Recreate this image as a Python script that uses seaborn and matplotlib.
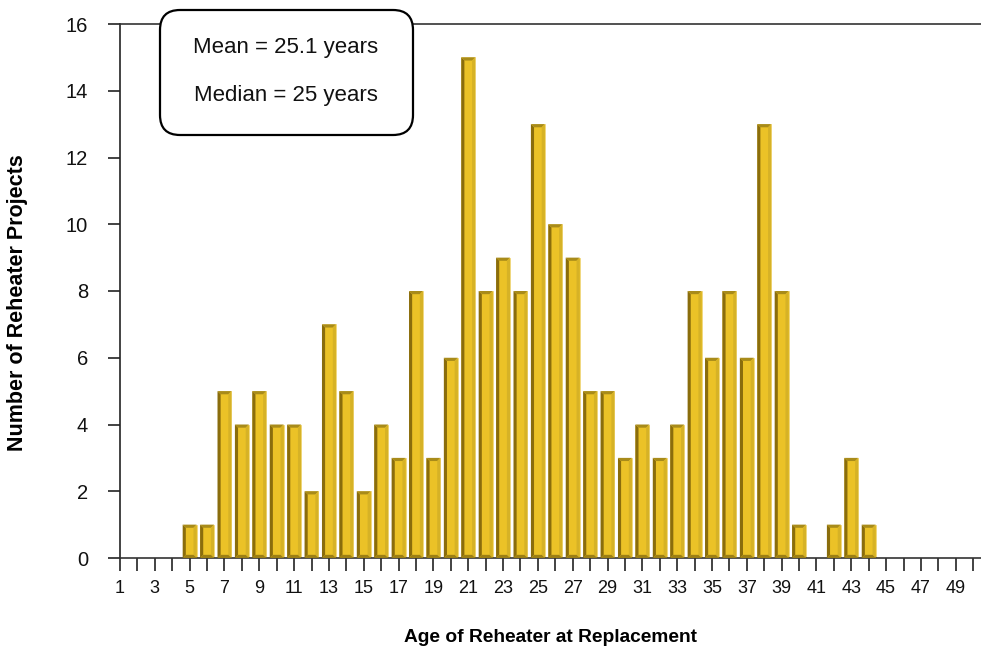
import matplotlib
matplotlib.use("Agg")
import matplotlib.pyplot as plt
import seaborn as sns
import pandas as pd
from matplotlib.patches import Polygon, FancyBboxPatch
from matplotlib.transforms import IdentityTransform

ages = list(range(1, 51))
counts = [0, 0, 0, 0, 1, 1, 5, 4, 5, 4,
          4, 2, 7, 5, 2, 4, 3, 8, 3, 6,
          15, 8, 9, 8, 13, 10, 9, 5, 5, 3,
          4, 3, 4, 8, 6, 8, 6, 13, 8, 1,
          0, 1, 3, 1, 0, 0, 0, 0, 0, 0]
y_ticks = [0, 2, 4, 6, 8, 10, 12, 14, 16]
x_label_ticks = list(range(1, 51, 2))
stats_lines = ["Mean = 25.1 years", "Median = 25 years"]

sns.set_theme(style="white")
plt.rcParams['font.family'] = ['Liberation Sans', 'DejaVu Sans']

df = pd.DataFrame({"age": ages, "count": counts})

W, H = 981, 650
fig = plt.figure(figsize=(W / 100, H / 100), dpi=100)
ax = fig.add_axes([120 / W, (H - 558) / H, (W - 120) / W, (558 - 24) / H])

face = "#EBC227"
sns.barplot(data=df, x="age", y="count", native_scale=True, width=0.8,
            color=face, saturation=1, edgecolor="#F0D77E", linewidth=0.6, ax=ax)

dx, dy = 0.18, 0.095
for p in list(ax.patches):
    h = p.get_height()
    if h <= 0:
        continue
    x0 = p.get_x()
    x1 = x0 + p.get_width()
    polys = [
        ([(x0, 0), (x0 + dx, dy), (x0 + dx, h - dy), (x0, h)], "#8A6D0C"),
        ([(x0, h), (x0 + dx, h - dy), (x1 - dx, h - dy), (x1, h)], "#A88B1A"),
        ([(x1, h), (x1 - dx, h - dy), (x1 - dx, dy), (x1, 0)], "#D6B226"),
        ([(x0, 0), (x0 + dx, dy), (x1 - dx, dy), (x1, 0)], "#9C7F14"),
    ]
    for pts, c in polys:
        ax.add_patch(Polygon(pts, closed=True, facecolor=c, edgecolor="none", zorder=3))

ax.set_xlim(1, 50.45)
ax.set_ylim(0, 16)
ax.set_xticks(ages)
ax.set_xticklabels([str(a) if a in x_label_ticks else "" for a in ages])
ax.set_yticks(y_ticks)
ax.set_yticklabels([str(v) for v in y_ticks])

for s in ["left", "bottom", "top"]:
    ax.spines[s].set_visible(True)
    ax.spines[s].set_color("#333333")
    ax.spines[s].set_linewidth(1.2)
ax.spines["right"].set_visible(False)
ax.spines["left"].set_color("#222222")

ax.tick_params(axis="both", which="both", direction="out", length=9,
               width=1.2, color="#222222", labelcolor="#111111")
ax.tick_params(axis="x", pad=7, labelsize=13)
ax.tick_params(axis="y", pad=14, labelsize=14.5)
ax.tick_params(left=True, bottom=True)
ax.set_xlabel("")
ax.set_ylabel("")

fig.text(550 / W, 1 - 637 / H, "Age of Reheater at Replacement", ha="center", va="center",
         fontsize=13.8, fontweight="bold", color="#000000")
fig.text(18 / W, 1 - 303 / H, "Number of Reheater Projects", ha="center", va="center",
         rotation=90, fontsize=15.5, fontweight="bold", color="#000000")

box = FancyBboxPatch((160, H - 135), 253, 125, transform=IdentityTransform(),
                     boxstyle="round,pad=0,rounding_size=20", facecolor="white",
                     edgecolor="black", linewidth=1.6, zorder=5, clip_on=False)
fig.patches.append(box)
box.set_figure(fig)
fig.text(286 / W, 1 - 48 / H, stats_lines[0], ha="center", va="center",
         fontsize=16, zorder=6, color="#111111")
fig.text(286 / W, 1 - 95 / H, stats_lines[1], ha="center", va="center",
         fontsize=16, zorder=6, color="#111111")

fig.savefig("out.png", dpi=100)
